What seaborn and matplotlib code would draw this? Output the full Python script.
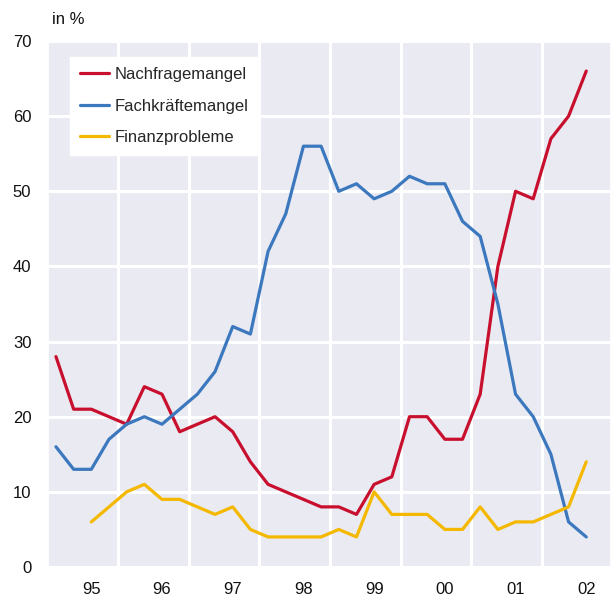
import numpy as np
import pandas as pd
import seaborn as sns
from matplotlib import pyplot as plt
from matplotlib.ticker import FixedLocator

# quarterly survey values, 31 quarters
quarter = np.arange(31)
nachfrage = [28, 21, 21, 20, 19, 24, 23, 18, 19, 20, 18, 14, 11, 10, 9, 8,
             8, 7, 11, 12, 20, 20, 17, 17, 23, 40, 50, 49, 57, 60, 66]
fachkraefte = [16, 13, 13, 17, 19, 20, 19, 21, 23, 26, 32, 31, 42, 47, 56, 56,
               50, 51, 49, 50, 52, 51, 51, 46, 44, 35, 23, 20, 15, 6, 4]
finanz = [np.nan, np.nan, 6, 8, 10, 11, 9, 9, 8, 7, 8, 5, 4, 4, 4, 4,
          5, 4, 10, 7, 7, 7, 5, 5, 8, 5, 6, 6, 7, 8, 14]
year_labels = ["95", "96", "97", "98", "99", "00", "01", "02"]
series_names = ["Nachfragemangel", "Fachkräftemangel", "Finanzprobleme"]
colors = ["#C8102E", "#3B78BE", "#F4B800"]

df = pd.DataFrame({"quarter": quarter,
                   series_names[0]: nachfrage,
                   series_names[1]: fachkraefte,
                   series_names[2]: finanz})
df = df.melt(id_vars="quarter", var_name="reihe", value_name="wert").dropna()

sns.set_theme(style="darkgrid", rc={"grid.linewidth": 2.2,
                                    "axes.facecolor": "#EAEAF2"})
plt.rcParams["font.family"] = ["Liberation Sans", "DejaVu Sans"]

fig = plt.figure(figsize=(6.11, 6.0), dpi=100)
ax = fig.add_axes([48 / 611, 1 - 567 / 600, 563 / 611, 526 / 600])

sns.lineplot(ax=ax, data=df, x="quarter", y="wert", hue="reihe",
             hue_order=series_names, palette=colors, linewidth=2.3)

ax.set_xlim(-0.45, 31.4)
ax.set_ylim(0, 70)
ax.set_yticks(np.arange(0, 71, 10))
ax.set_xticks(np.arange(2, 31, 4))
ax.set_xticklabels(year_labels)
ax.xaxis.set_minor_locator(FixedLocator(np.arange(3.5, 28, 4)))
ax.grid(False, axis="x", which="major")
ax.grid(True, axis="x", which="minor", color="white", linewidth=2.2)
ax.tick_params(axis="both", which="both", length=0, labelsize=12, colors="#111111")
ax.tick_params(axis="y", pad=12)
ax.tick_params(axis="x", pad=11)
ax.set_xlabel(None)
ax.set_ylabel(None)

leg = ax.legend(loc="upper left", bbox_to_anchor=(22 / 563, 510 / 526),
                borderaxespad=0, frameon=True, fancybox=False, fontsize=12,
                handlelength=1.75, handletextpad=0.3, labelspacing=1.0,
                borderpad=0.6, title=None)
leg.get_frame().set_facecolor("white")
leg.get_frame().set_edgecolor("white")
leg.get_frame().set_alpha(1)

fig.text(52 / 611, 1 - 19 / 600, "in %", fontsize=12, va="center", ha="left",
         color="#111111")

plt.savefig("out.png", dpi=100)
